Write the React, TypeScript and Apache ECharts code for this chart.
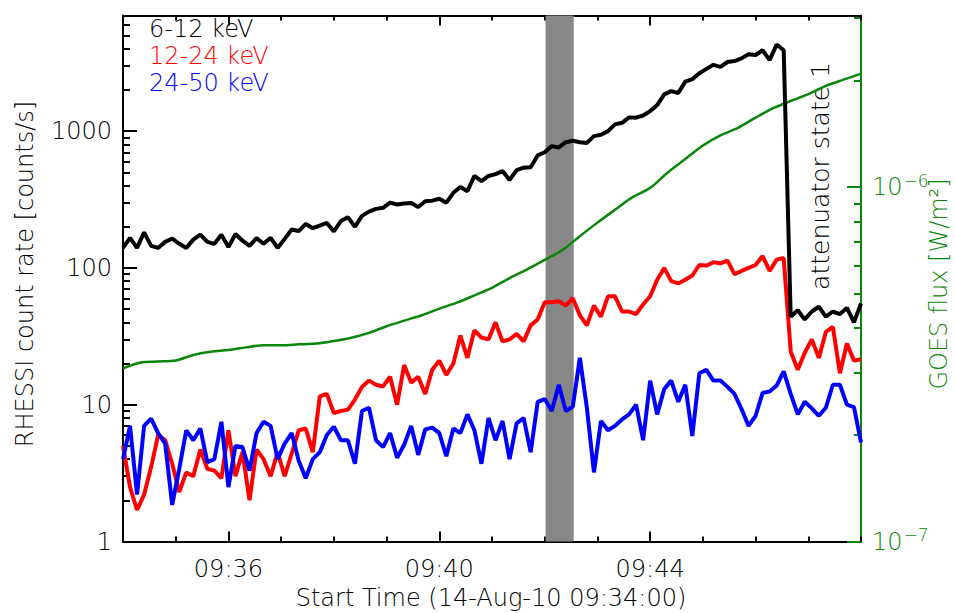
import { useEffect, useRef } from "react";
import * as echarts from "echarts";

// ---------- data ----------
const RHESSI_CADENCE_S = 8; // seconds between RHESSI samples, from 09:34:00
const GOES_CADENCE_S = 20; // seconds between GOES samples, from 09:34:00

// 6-12 keV count rate [counts/s]
const black612 = [
  140, 166, 140, 182, 145, 140, 155, 164, 150, 140,
  161, 175, 155, 150, 175, 142, 177, 158, 145, 165,
  150, 166, 140, 163, 191, 186, 210, 195, 204, 213,
  185, 220, 235, 200, 240, 258, 270, 275, 300, 291,
  296, 298, 279, 307, 310, 320, 300, 354, 390, 364,
  470, 431, 470, 485, 510, 440, 518, 540, 545, 664,
  700, 777, 760, 830, 850, 830, 820, 919, 940, 1000,
  1120, 1150, 1260, 1253, 1300, 1400, 1550, 1857, 1960, 1900,
  2300, 2400, 2650, 2850, 3050, 2950, 3200, 3250, 3400, 3650,
  3600, 3900, 3300, 4300, 3900, 44, 49, 42, 48, 52,
  44, 48, 46, 51, 40, 55,
];

// 12-24 keV count rate [counts/s]
const red1224 = [
  5.0, 2.5, 1.7, 2.2, 3.5, 6.0, 5.5, 3.7, 2.3, 3.2,
  3.0, 4.7, 3.4, 3.3, 2.9, 6.5, 3.0, 4.5, 2.0, 4.7,
  4.0, 3.0, 4.5, 3.0, 4.4, 6.5, 6.7, 4.5, 11.5, 12.0,
  8.7, 9.0, 9.2, 10.9, 13.5, 15.0, 14.0, 13.6, 16.0, 10.0,
  19.5, 14.5, 16.0, 12.0, 18.0, 21.0, 16.5, 20.0, 32.0, 22.0,
  35.0, 31.0, 30.0, 40.0, 29.0, 30.0, 33.0, 29.0, 38.0, 42.0,
  56, 56, 57, 53, 60, 45, 38, 53, 44, 62,
  62, 48, 48, 46, 54, 62, 82, 100, 80, 77,
  82, 88, 105, 104, 110, 108, 113, 90, 95, 100,
  105, 122, 95, 115, 118, 24.5, 18, 24, 30, 22,
  34, 37, 17, 28, 21, 21.5,
];

// 24-50 keV count rate [counts/s]
const blue2450 = [
  4.0, 7.0, 2.2, 7.0, 7.9, 6.2, 5.2, 1.85, 3.4, 6.5,
  5.5, 6.7, 3.8, 4.0, 7.5, 2.5, 5.0, 4.9, 3.3, 6.2,
  7.5, 7.0, 4.0, 5.2, 6.2, 3.9, 2.9, 4.0, 4.5, 6.0,
  6.9, 5.5, 5.5, 3.7, 9.0, 9.5, 5.5, 4.9, 6.2, 4.1,
  5.1, 7.0, 4.3, 6.6, 6.8, 6.2, 4.2, 6.7, 6.2, 8.5,
  6.5, 3.7, 8.0, 5.5, 7.6, 4.0, 7.3, 8.0, 4.5, 10.5,
  11.0, 9.0, 14.0, 9.0, 9.7, 22.0, 9.5, 3.2, 7.6, 6.5,
  7.0, 7.8, 8.5, 10.0, 5.5, 15.0, 8.5, 13.0, 15.0, 10.5,
  14.0, 5.9, 17.0, 18.0, 15.0, 15.0, 13.5, 12.0, 9.3, 7.0,
  8.3, 12.2, 12.5, 13.8, 17.5, 12.0, 8.5, 10.5, 9.4, 8.3,
  9.5, 14.0, 14.0, 10.0, 9.6, 5.3,
];

// GOES flux in units of 1e-7 W/m^2
const goesFlux1e7 = [
  3.08, 3.2, 3.22, 3.24, 3.36, 3.43, 3.47, 3.53, 3.58, 3.58,
  3.6, 3.62, 3.68, 3.76, 3.88, 4.05, 4.2, 4.35, 4.54, 4.72,
  4.95, 5.2, 5.54, 5.86, 6.23, 6.64, 7.27, 7.94, 8.63, 9.37,
  9.95, 11.0, 12.0, 13.1, 14.0, 14.7, 15.7, 16.7, 17.5, 18.3,
  19.3, 20.1, 20.9,
];

const grayBand = [481, 513]; // seconds after 09:34:00
const xMajorTicks = [120, 360, 600];
const leftMajor = [1, 10, 100, 1000];
const leftMinor = [
  2, 3, 4, 5, 6, 7, 8, 9,
  20, 30, 40, 50, 60, 70, 80, 90,
  200, 300, 400, 500, 600, 700, 800, 900,
  2000, 3000, 4000, 5000, 6000, 7000,
];
const rightMajor = [1e-7, 1e-6];
const rightMinor = [2e-7, 3e-7, 4e-7, 5e-7, 6e-7, 7e-7, 8e-7, 9e-7, 2e-6, 3e-6];
const legendItems = [
  { text: "6-12 keV", color: "#000000" },
  { text: "12-24 keV", color: "#ff0000" },
  { text: "24-50 keV", color: "#0000ff" },
];

const FONT = "'DejaVu Sans', 'Liberation Sans', sans-serif";
const FW = 200;
const GREEN = "#0a870a";

export default function App() {
  const ref = useRef<HTMLDivElement>(null);

  useEffect(() => {
    if (!ref.current) return;
    const chart = echarts.init(ref.current, undefined, { renderer: "svg" });

    const rTimes = black612.map((_, i) => i * RHESSI_CADENCE_S);
    const gTimes = goesFlux1e7.map((_, i) => i * GOES_CADENCE_S);

    const xBase = {
      type: "value" as const,
      min: 0,
      max: 840,
      splitLine: { show: false },
    };
    const labelStyle = { fontFamily: FONT, fontWeight: FW as any, fontSize: 24 };
    const blackLine = { show: true, onZero: false, lineStyle: { color: "#000", width: 2 } };
    const noLine = { show: false, onZero: false };

    const option: any = {
      animation: false,
      backgroundColor: "#ffffff",
      grid: { left: 123, right: 94, top: 15.5, bottom: 71.5, outerBoundsMode: "none" },
      xAxis: [
        {
          ...xBase,
          position: "bottom",
          axisLine: blackLine,
          axisTick: { show: true, inside: true, length: 10, customValues: xMajorTicks, lineStyle: { color: "#000", width: 2 } },
          axisLabel: {
            show: true,
            customValues: xMajorTicks,
            margin: 15,
            color: "#000",
            ...labelStyle,
            formatter: (v: number) => `09:${34 + Math.round(v / 60)}`,
          },
        },
        {
          ...xBase,
          position: "bottom",
          interval: 60,
          axisLine: noLine,
          axisTick: { show: true, inside: true, length: 5, lineStyle: { color: "#000", width: 2 } },
          axisLabel: { show: false },
        },
        {
          ...xBase,
          position: "top",
          axisLine: blackLine,
          axisTick: { show: true, inside: true, length: 10, customValues: xMajorTicks, lineStyle: { color: "#000", width: 2 } },
          axisLabel: { show: false },
        },
        {
          ...xBase,
          position: "top",
          interval: 60,
          axisLine: noLine,
          axisTick: { show: true, inside: true, length: 5, lineStyle: { color: "#000", width: 2 } },
          axisLabel: { show: false },
        },
      ],
      yAxis: [
        {
          type: "log",
          logBase: 10,
          min: 1,
          max: 7000,
          position: "left",
          splitLine: { show: false },
          axisLine: blackLine,
          axisTick: { show: true, inside: true, length: 14, customValues: leftMajor, lineStyle: { color: "#000", width: 2 } },
          axisLabel: {
            show: true,
            customValues: leftMajor,
            margin: 11,
            color: "#000",
            ...labelStyle,
            formatter: (v: number) => String(Math.round(v)),
          },
        },
        {
          type: "log",
          logBase: 10,
          min: 1,
          max: 7000,
          position: "left",
          splitLine: { show: false },
          axisLine: noLine,
          axisTick: { show: true, inside: true, length: 7, customValues: leftMinor, lineStyle: { color: "#000", width: 2 } },
          axisLabel: { show: false },
        },
        {
          type: "log",
          logBase: 10,
          min: 1e-7,
          max: 3.05e-6,
          position: "right",
          splitLine: { show: false },
          axisLine: { show: true, onZero: false, lineStyle: { color: GREEN, width: 2 } },
          axisTick: { show: true, inside: true, length: 14, customValues: rightMajor, lineStyle: { color: GREEN, width: 2 } },
          axisLabel: {
            show: true,
            customValues: rightMajor,
            margin: 11,
            color: GREEN,
            ...labelStyle,
            formatter: (v: number) => `10{s|−${Math.round(-Math.log10(v))}}`,
            rich: {
              s: { fontSize: 17, color: GREEN, fontFamily: FONT, padding: [0, 0, 13, 1] },
            },
          },
        },
        {
          type: "log",
          logBase: 10,
          min: 1e-7,
          max: 3.05e-6,
          position: "right",
          splitLine: { show: false },
          axisLine: noLine,
          axisTick: { show: true, inside: true, length: 7, customValues: rightMinor, lineStyle: { color: GREEN, width: 2 } },
          axisLabel: { show: false },
        },
      ],
      series: [
        {
          type: "line",
          name: "GOES",
          xAxisIndex: 0,
          yAxisIndex: 2,
          data: gTimes.map((t, i) => [t, goesFlux1e7[i] * 1e-7]),
          showSymbol: false,
          symbol: "none",
          smooth: 0.3,
          silent: true,
          z: 2,
          lineStyle: { color: GREEN, width: 2.5 },
        },
        {
          type: "line",
          name: "12-24 keV",
          xAxisIndex: 0,
          yAxisIndex: 0,
          data: rTimes.map((t, i) => [t, red1224[i]]),
          showSymbol: false,
          symbol: "none",
          silent: true,
          z: 3,
          lineStyle: { color: "#ff0000", width: 4 },
        },
        {
          type: "line",
          name: "24-50 keV",
          xAxisIndex: 0,
          yAxisIndex: 0,
          data: rTimes.map((t, i) => [t, blue2450[i]]),
          showSymbol: false,
          symbol: "none",
          silent: true,
          z: 4,
          lineStyle: { color: "#0000ff", width: 4 },
        },
        {
          type: "line",
          name: "6-12 keV",
          xAxisIndex: 0,
          yAxisIndex: 0,
          data: rTimes.map((t, i) => [t, black612[i]]),
          showSymbol: false,
          symbol: "none",
          silent: true,
          z: 5,
          lineStyle: { color: "#000000", width: 4 },
          markArea: {
            silent: true,
            z: 1,
            itemStyle: { color: "#878787", opacity: 1 },
            data: [[{ xAxis: grayBand[0] }, { xAxis: grayBand[1] }]],
          },
        },
      ],
      graphic: [
        ...legendItems.map((it, i) => ({
          type: "text",
          left: 149,
          top: 17 + i * 27,
          style: { text: it.text, fill: it.color, fontFamily: FONT, fontWeight: FW, fontSize: 24 },
        })),
        {
          type: "text",
          x: 820,
          y: 176,
          rotation: Math.PI / 2,
          style: { text: "attenuator state 1", fill: "#000", fontFamily: FONT, fontWeight: FW, fontSize: 25, align: "center", verticalAlign: "middle" },
        },
        {
          type: "text",
          x: 25,
          y: 274,
          rotation: Math.PI / 2,
          style: { text: "RHESSI count rate [counts/s]", fill: "#000", fontFamily: FONT, fontWeight: FW, fontSize: 24, align: "center", verticalAlign: "middle" },
        },
        {
          type: "text",
          x: 939,
          y: 284,
          rotation: Math.PI / 2,
          style: { text: "GOES flux [W/m²]", fill: GREEN, fontFamily: FONT, fontWeight: FW, fontSize: 24, align: "center", verticalAlign: "middle" },
        },
        {
          type: "text",
          x: 491,
          y: 598,
          style: { text: "Start Time (14-Aug-10 09:34:00)", fill: "#000", fontFamily: FONT, fontWeight: FW, fontSize: 24, align: "center", verticalAlign: "middle" },
        },
      ],
    };

    chart.setOption(option);
    return () => chart.dispose();
  }, []);

  return (
    <div
      ref={ref}
      style={{ position: "fixed", left: 0, top: 0, width: 955, height: 613, background: "#fff" }}
    />
  );
}
